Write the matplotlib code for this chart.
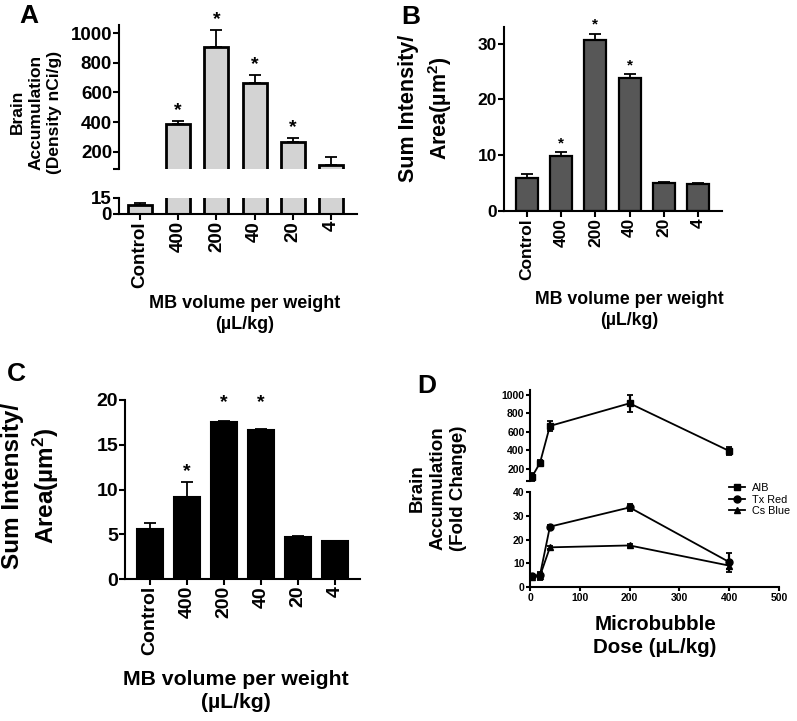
import numpy as np
import matplotlib.pyplot as plt

plt.rcParams['font.family'] = ['Liberation Sans', 'DejaVu Sans']
plt.rcParams['font.weight'] = 'bold'
plt.rcParams['mathtext.fontset'] = 'custom'
plt.rcParams['mathtext.rm'] = 'Liberation Sans:bold'
plt.rcParams['mathtext.it'] = 'Liberation Sans:bold'
plt.rcParams['mathtext.bf'] = 'Liberation Sans:bold'
plt.rcParams['mathtext.default'] = 'rm'

# Datos
groups = ['Control', '400', '200', '40', '20', '4']

# A: brain accumulation (nCi/g)
a_mean = [8, 385, 905, 665, 265, 115]
a_sem = [2, 20, 115, 55, 30, 50]
a_sig = [False, True, True, True, True, False]

# B: sum intensity / area
b_mean = [5.9, 9.9, 30.7, 23.9, 5.0, 4.8]
b_sem = [0.8, 0.6, 1.1, 0.6, 0.2, 0.15]
b_sig = [False, True, True, True, False, False]

# C: sum intensity / area
c_mean = [5.6, 9.2, 17.5, 16.6, 4.7, 4.2]
c_sem = [0.7, 1.6, 0.1, 0.2, 0.05, 0.05]
c_star = [None, 12.0, 19.7, 19.7, None, None]

# D: fold change vs dose
dose = [4, 20, 40, 200, 400]
aib_fold = [115, 265, 665, 910, 395]
aib_err = [45, 30, 50, 95, 45]
txred_fold = [4.6, 5.0, 25.4, 33.5, 10.5]
txred_err = [0.8, 1.2, 0.5, 1.5, 4.0]
csblue_fold = [4.2, 4.6, 16.7, 17.5, 9.0]
csblue_err = [0.5, 1.5, 0.5, 0.5, 1.5]

W, H = 797, 721
fig = plt.figure(figsize=(W / 100, H / 100), dpi=100)


def px_axes(x0, y0, x1, y1):
    return fig.add_axes([x0 / W, 1 - y1 / H, (x1 - x0) / W, (y1 - y0) / H])


def style(ax, lw=1.5, size=12, tlen=4):
    for s in ['top', 'right']:
        ax.spines[s].set_visible(False)
    for s in ['left', 'bottom']:
        ax.spines[s].set_linewidth(lw)
    ax.tick_params(width=lw, length=tlen, labelsize=size, pad=1)


def bars(ax, means, sems, color, width, lw, capsize):
    x = np.arange(len(means))
    ax.bar(x, means, width, color=color, edgecolor='black', linewidth=lw, zorder=2)
    ax.errorbar(x, means, yerr=[np.zeros(len(sems)), sems], fmt='none', ecolor='black',
                elinewidth=1.3, capsize=capsize, capthick=1.3, zorder=3)


def stars(ax, means, sems, sig, offset, size):
    for i, (m, e, s) in enumerate(zip(means, sems, sig)):
        if s:
            ax.annotate('*', xy=(i, m + e), xytext=(0, offset), textcoords='offset points',
                        ha='center', va='center', fontsize=size, fontweight='bold')


x = np.arange(len(groups))

# ---- Panel A (broken axis)
axA_t = px_axes(119, 25, 357, 169)
axA_b = px_axes(119, 198, 357, 214)
for ax in (axA_t, axA_b):
    bars(ax, a_mean, a_sem, '#d3d3d3', 0.63, 2.0, 4)
    style(ax, size=13.5)
    ax.set_xlim(-0.55, 5.68)
axA_t.set_ylim(85, 1054)
axA_t.set_yticks([85, 200, 400, 600, 800, 1000], ['', '200', '400', '600', '800', '1000'])
axA_t.spines['bottom'].set_visible(False)
axA_t.set_xticks([])
stars(axA_t, a_mean, a_sem, a_sig, 7.5, 14)
axA_b.set_ylim(0, 15)
axA_b.set_yticks([0, 15])
axA_b.set_xticks(x, groups, rotation=90)

fig.text(29 / W, 1 - 16 / H, 'A', fontsize=19, ha='center', va='center')
fig.text(36 / W, 1 - 112 / H, 'Brain\nAccumulation\n(Density nCi/g)', rotation=90,
         ha='center', va='center', fontsize=12.5, linespacing=1.3)
fig.text(245 / W, 1 - 314 / H, 'MB volume per weight\n(µL/kg)', ha='center', va='center',
         fontsize=13, linespacing=1.3)

# ---- Panel B
axB = px_axes(504, 27, 722, 211)
bars(axB, b_mean, b_sem, '#575757', 0.64, 1.6, 4)
style(axB, size=12.5)
axB.set_xlim(-0.67, 5.70)
axB.set_ylim(0, 33)
axB.set_yticks([0, 10, 20, 30])
axB.set_xticks(x, groups, rotation=90)
stars(axB, b_mean, b_sem, b_sig, 6.5, 11)

fig.text(411 / W, 1 - 17 / H, 'B', fontsize=19, ha='center', va='center')
fig.text(426 / W, 1 - 108 / H, 'Sum Intensity/\nArea(µm$^2$)', rotation=90,
         ha='center', va='center', fontsize=15.5, linespacing=1.3)
fig.text(629 / W, 1 - 310 / H, 'MB volume per weight\n(µL/kg)', ha='center', va='center',
         fontsize=12.8, linespacing=1.3)

# ---- Panel C
axC = px_axes(125, 400, 360, 579)
bars(axC, c_mean, c_sem, 'black', 0.7, 1.5, 4)
style(axC, size=14)
axC.set_xlim(-0.68, 5.68)
axC.set_ylim(0, 20)
axC.set_yticks([0, 5, 10, 15, 20])
axC.set_xticks(x, groups, rotation=90)
for i, yv in enumerate(c_star):
    if yv is not None:
        axC.text(i, yv, '*', ha='center', va='center', fontsize=14, fontweight='bold')

fig.text(16 / W, 1 - 374 / H, 'C', fontsize=19, ha='center', va='center')
fig.text(31 / W, 1 - 486 / H, 'Sum Intensity/\nArea(µm$^2$)', rotation=90,
         ha='center', va='center', fontsize=17.5, linespacing=1.3)
fig.text(236 / W, 1 - 691 / H, 'MB volume per weight\n(µL/kg)', ha='center', va='center',
         fontsize=15.3, linespacing=1.3)

# ---- Panel D (broken axis)
axD_t = px_axes(530, 390, 779, 481)
axD_b = px_axes(530, 492, 779, 587)
eb_kw = dict(color='black', lw=1.3, ms=5, capsize=2.5, elinewidth=1.6, capthick=1.3)
e_aib = axD_t.errorbar(dose, aib_fold, yerr=aib_err, marker='s', **eb_kw)
e_tx = axD_b.errorbar(dose, txred_fold, yerr=txred_err, marker='o', **eb_kw)
e_cs = axD_b.errorbar(dose, csblue_fold, yerr=csblue_err, marker='^', **eb_kw)
for ax in (axD_t, axD_b):
    style(ax, lw=1.5, size=7.5, tlen=3)
    ax.set_xlim(0, 500)
axD_t.set_ylim(70, 1054)
axD_t.set_yticks([70, 200, 400, 600, 800, 1000], ['', '200', '400', '600', '800', '1000'])
axD_t.spines['bottom'].set_visible(False)
axD_t.set_xticks([])
axD_b.set_ylim(0, 40)
axD_b.set_yticks([0, 10, 20, 30, 40])
axD_b.set_xticks([0, 100, 200, 300, 400, 500])

fig.legend([e_aib[0], e_tx[0], e_cs[0]], ['AIB', 'Tx Red', 'Cs Blue'], loc='upper left',
           bbox_to_anchor=(729 / W, 1 - 483 / H), frameon=False,
           prop={'size': 7.8, 'weight': 'normal'}, handlelength=1.5, handletextpad=0.6,
           labelspacing=0.15, borderpad=0, borderaxespad=0)

fig.text(427 / W, 1 - 386 / H, 'D', fontsize=19, ha='center', va='center')
fig.text(438 / W, 1 - 488 / H, 'Brain\nAccumulation\n(Fold Change)', rotation=90,
         ha='center', va='center', fontsize=13.5, linespacing=1.3)
fig.text(655 / W, 1 - 636 / H, 'Microbubble\nDose (µL/kg)', ha='center', va='center',
         fontsize=14.8, linespacing=1.3)

fig.savefig('out.png', dpi=100)
